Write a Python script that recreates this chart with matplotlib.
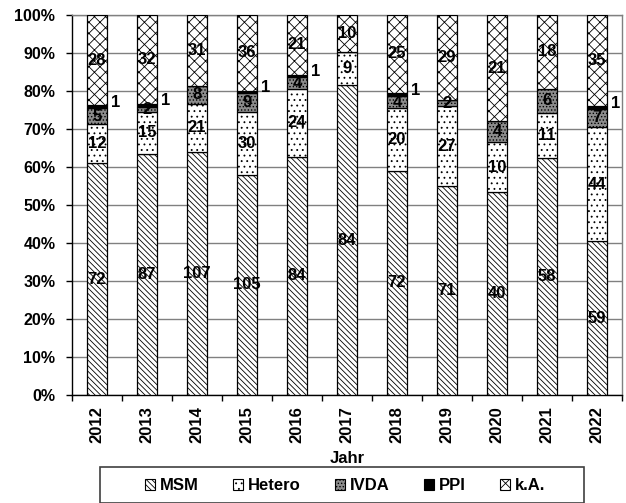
import matplotlib
matplotlib.use('Agg')
import matplotlib.pyplot as plt
import numpy as np
from matplotlib.ticker import FuncFormatter, FixedLocator, MultipleLocator
from matplotlib.patches import Patch, Rectangle

plt.rcParams['font.family'] = ['Liberation Sans', 'DejaVu Sans']
plt.rcParams['font.weight'] = 'bold'
plt.rcParams['hatch.linewidth'] = 0.6

years = ['2012', '2013', '2014', '2015', '2016', '2017', '2018', '2019', '2020', '2021', '2022']
msm = [72, 87, 107, 105, 84, 84, 72, 71, 40, 58, 59]
hetero = [12, 15, 21, 30, 24, 9, 20, 27, 10, 11, 44]
ivda = [5, 2, 8, 9, 4, 0, 4, 2, 4, 6, 7]
ppi = [1, 1, 0, 1, 1, 0, 1, 0, 0, 0, 1]
ka = [28, 32, 31, 36, 21, 10, 25, 29, 21, 18, 35]
series_names = ['MSM', 'Hetero', 'IVDA', 'PPI', 'k.A.']

series = [msm, hetero, ivda, ppi, ka]
styles = [
    dict(facecolor='white', hatch='\\\\\\\\\\\\'),
    dict(facecolor='white', hatch='...'),
    dict(facecolor='#8c8c8c', hatch='.....'),
    dict(facecolor='black', hatch=None),
    dict(facecolor='white', hatch='xxx'),
]

FS = 12
TFS = 11.5

fig = plt.figure(figsize=(6.26, 5.03), dpi=100)
ax = fig.add_axes([72/626, 1-395/503, 550/626, 380/503])

data = np.array(series, dtype=float)
totals = data.sum(axis=0)
frac = data / totals
x = np.arange(len(years))
width = 0.4
bottom = np.zeros(len(years))
handles = []
for i, (name, st) in enumerate(zip(series_names, styles)):
    ax.bar(x, frac[i], width, bottom=bottom, edgecolor='black', linewidth=0.9,
           zorder=3, **st)
    handles.append(Patch(edgecolor='black', linewidth=0.8, **st, label=name))
    for j in range(len(years)):
        v = data[i, j]
        if v == 0:
            continue
        if name == 'PPI':
            ax.annotate(f'{int(v)}', (x[j] + width/2, bottom[j] + frac[i, j]/2),
                        xytext=(3, 3), textcoords='offset points',
                        ha='left', va='center', fontsize=FS, fontweight='bold', zorder=5)
        else:
            ax.text(x[j], bottom[j] + frac[i, j]/2, f'{int(v)}', ha='center', va='center',
                    fontsize=FS, fontweight='bold', zorder=5)
    bottom += frac[i]

ax.set_xlim(-0.5, len(years) - 0.5)
ax.set_ylim(0, 1)
ax.yaxis.set_major_locator(MultipleLocator(0.1))
ax.yaxis.set_major_formatter(FuncFormatter(lambda v, p: f'{v*100:.0f}%'))
ax.yaxis.grid(True, color='#808080', linewidth=1, zorder=0)
ax.set_axisbelow(True)

ax.xaxis.set_major_locator(FixedLocator(np.arange(-0.5, len(years), 1.0)))
ax.xaxis.set_major_formatter(FuncFormatter(lambda v, p: ''))
ax.set_xticks(x, years, minor=True)
ax.tick_params(axis='x', which='major', direction='out', length=4, width=1)
ax.tick_params(axis='x', which='minor', length=0, pad=8, labelrotation=90, labelsize=FS)
ax.tick_params(axis='y', direction='out', length=4, width=1, pad=8, labelsize=TFS)
for lab in ax.get_xticklabels(minor=True) + ax.get_yticklabels():
    lab.set_fontweight('bold')

for s in ['top', 'right']:
    ax.spines[s].set_color('#808080')
    ax.spines[s].set_linewidth(1)
for s in ['left', 'bottom']:
    ax.spines[s].set_color('black')
    ax.spines[s].set_linewidth(1)

ax.set_xlabel('Jahr', fontsize=FS, fontweight='bold', labelpad=6)

# legend frame
fig.patches.append(Rectangle((100/626, 0/503), 484/626, 36/503, transform=fig.transFigure,
                             facecolor='none', edgecolor='#404040', linewidth=1.2))
leg = fig.legend(handles=handles, loc='center',
                 bbox_to_anchor=(345/626, 17/503),
                 ncol=5, fontsize=FS, frameon=False,
                 handlelength=0.6, handleheight=0.6, handletextpad=0.3,
                 columnspacing=2.05, borderaxespad=0, borderpad=0)
for t in leg.get_texts():
    t.set_fontweight('bold')

fig.savefig('out.png', dpi=100)
